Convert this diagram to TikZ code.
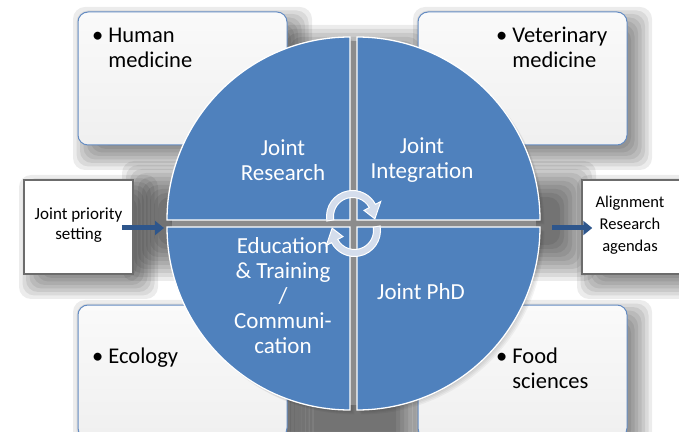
\documentclass[tikz,border=0pt]{standalone}
\usepackage{fontspec}
\setmainfont{Carlito}
\usetikzlibrary{arrows.meta,positioning}
\definecolor{quadblue}{RGB}{79,129,189}
\definecolor{flowblue}{RGB}{46,86,140}
\definecolor{cyclefill}{RGB}{212,221,236}
\definecolor{boxline}{RGB}{100,140,195}
\definecolor{gapgray}{RGB}{140,140,140}
\newcommand{\twoitem}[2]{\begin{tabular}[t]{@{}l@{\hspace{5pt}}l@{}}\textbullet & #1\\ & #2\end{tabular}}

\begin{document}
\begin{tikzpicture}[x=1pt,y=1pt,>=Stealth]
  \tikzstyle{areabox}=[rectangle,rounded corners=10pt,draw=boxline,line width=1pt,
                       top color=gray!4,bottom color=gray!12,
                       minimum width=209pt,minimum height=133pt]
  \tikzstyle{areatext}=[inner sep=0pt,font=\fontsize{22.5}{25}\selectfont,anchor=base west]
  \tikzstyle{quadrant}=[fill=quadblue,draw=white,line width=1.3pt]
  \tikzstyle{quadtext}=[text=white,align=center,font=\fontsize{23}{25}\selectfont]
  \tikzstyle{sidebox}=[rectangle,draw=gray!85!black,line width=1.5pt,fill=white,
                       minimum width=109pt,minimum height=94pt]
  \tikzstyle{sidetext}=[align=center,font=\fontsize{17}{20}\selectfont]
  \tikzstyle{flow}=[draw=flowblue,line width=5pt,-{Triangle[length=9pt,width=14pt]}]
  \tikzstyle{cycle}=[fill=cyclefill,draw=white,line width=1pt]
  \tikzstyle{haze}=[black,opacity=0.075,rounded corners=12pt]

  \useasboundingbox (0,0) rectangle (679,431);
  \clip (0,0) rectangle (679,431);
  \fill[white] (0,0) rectangle (679,431);

  % soft gray shadows
  \foreach \k in {-18,-14,...,18}{
    \fill[haze] (296+\k,-20) rectangle (414-\k,388-\k);
    \fill[haze] (140+\k,168+\k) rectangle (578-\k,252-\k);
  }
  \foreach \xa/\ya/\xb/\yb in {78/286/287/419,418/286/627/419,78/-7/287/126,
                               418/-7/627/126,24/157/133/251,582/157/691/251}{
    \foreach \k in {-15,-11.5,...,14}{
      \fill[haze] (\xa+10+\k,\ya-10+\k) rectangle (\xb+10-\k,\yb-10-\k);
    }
  }

  \node[areabox] (human) at (182.5,352.5) {};
  \node[areabox] (vet)   at (522.5,352.5) {};
  \node[areabox] (eco)   at (182.5,59.5) {};
  \node[areabox] (food)  at (522.5,59.5) {};

  \node[areatext] (humantext) at (92,388) {\twoitem{Human}{medicine}};
  \node[areatext] (vettext)   at (496,388) {\twoitem{Veterinary}{medicine}};
  \node[areatext] (ecotext)   at (92,68) {\textbullet\hspace{5pt}Ecology};
  \node[areatext] (foodtext)  at (496,68) {\twoitem{Food}{sciences}};

  \node[sidebox] (prio) at (78.5,204) {};
  \node[sidetext] (priotext) at (78.5,206) {Joint priority\\setting};
  \node[sidebox] (agenda) at (636.5,204) {};
  \node[sidetext,font=\fontsize{16.5}{22}\selectfont] (agendatext) at (630,206)
    {Alignment\\Research\\agendas};

  % quarters of the circle
  \foreach \a/\d/\dx/\dy in {180/-90/-3.5/3.5,0/90/3.5/3.5,180/90/-3.5/-3.5,0/-90/3.5/-3.5}{
    \foreach \s in {1,...,4}{
      \fill[black,opacity=0.045] (353.5+\dx+\s*1.1,207.5+\dy-\s*1.1) -- ++(\a:183)
        arc[start angle=\a,delta angle=\d,radius=183] -- cycle;
    }
  }
  \fill[gapgray] (350,26) rectangle (357,390);
  \fill[gapgray] (172,204) rectangle (536,211);
  \foreach \a/\d/\dx/\dy in {180/-90/-3.5/3.5,0/90/3.5/3.5,180/90/-3.5/-3.5,0/-90/3.5/-3.5}{
    \draw[quadrant] (353.5+\dx,207.5+\dy) -- ++(\a:183)
      arc[start angle=\a,delta angle=\d,radius=183] -- cycle;
  }

  % cycle arrows
  \foreach \r in {0,180}{
    \begin{scope}[shift={(353.5,207.5)},rotate=\r]
      \begin{scope}[shift={(-1,7)}]
        \draw[cycle] (190:26) arc[start angle=190,end angle=28,radius=26]
          -- (28:32) -- (-6:22.5) -- (28:13) -- (28:19)
          arc[start angle=28,end angle=190,radius=19] -- cycle;
      \end{scope}
    \end{scope}
  }

  \node[quadtext] (research)    at (283,271) {Joint\\Research};
  \node[quadtext] (integration) at (422,271) {Joint\\Integration};
  \node[quadtext] (phd)         at (421,139) {Joint PhD};
  \node[quadtext] (education)   at (283,135) {Education\\\& Training\\/\\Communi-\\cation};

  \coordinate (circlein)  at (164,203);
  \coordinate (circleout) at (552,203);
  \draw[flow] ([xshift=-12pt,yshift=-1pt]prio.east) -- (circlein);
  \draw[flow] (circleout) -- ([xshift=11pt,yshift=-1pt]agenda.west);
\end{tikzpicture}
\end{document}
